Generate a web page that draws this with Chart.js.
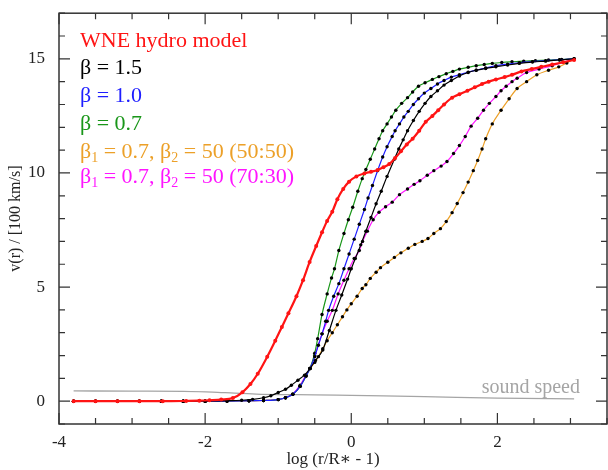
<!DOCTYPE html>
<html>
<head>
<meta charset="utf-8">
<script src="https://cdn.jsdelivr.net/npm/chart.js@4.4.0/dist/chart.umd.min.js"></script>
<style>
  html, body { margin: 0; padding: 0; background: #fff; }
  #wrap { width: 608px; height: 470px; overflow: hidden; }
  #myChart { display: block; margin-top: -3px; }
</style>
</head>
<body>
<div id="wrap"><canvas id="myChart" width="611" height="473"></canvas></div>
<script>
// x = log(r/R* - 1), v = v(r) in 100 km/s
const xHydro = [-3.8,-3.5,-3.2,-2.9,-2.58,-2.26,-2.08,-1.94,-1.78,-1.62,-1.49,-1.38,-1.28,-1.15,-1.04,-0.95,-0.86,-0.75,-0.66,-0.57,-0.48,-0.4,-0.33,-0.26,-0.19,-0.11,-0.03,0.07,0.18,0.27,0.36,0.44,0.52,0.6,0.68,0.76,0.84,0.93,1.02,1.11,1.19,1.27,1.38,1.48,1.59,1.69,1.79,1.88,1.98,2.1,2.2,2.33,2.47,2.6,2.75,2.9,3.05];
const vHydro = [0,0,0,0,0,0.01,0.02,0.04,0.07,0.14,0.39,0.75,1.2,1.95,2.65,3.25,3.85,4.6,5.3,6.1,6.8,7.4,7.9,8.3,8.85,9.3,9.62,9.85,9.98,10.05,10.13,10.25,10.39,10.65,10.95,11.25,11.5,11.85,12.24,12.5,12.75,13.0,13.3,13.45,13.6,13.75,13.9,14.0,14.1,14.2,14.3,14.45,14.55,14.65,14.75,14.85,14.95];

const xB15 = [-3.8,-3.5,-3.2,-2.9,-2.6,-2.3,-2.0,-1.7,-1.5,-1.35,-1.2,-1.1,-1.0,-0.9,-0.82,-0.73,-0.64,-0.565,-0.49,-0.39,-0.3,-0.21,-0.13,-0.05,0.0,0.055,0.13,0.2,0.27,0.34,0.41,0.49,0.59,0.65,0.71,0.77,0.85,0.93,1.01,1.09,1.18,1.27,1.37,1.48,1.6,1.71,1.84,1.98,2.14,2.3,2.48,2.66,2.85,3.05];
const vB15 = [0,0,0,0,0,0,0.01,0.02,0.04,0.08,0.15,0.24,0.38,0.52,0.7,0.92,1.14,1.43,1.78,2.24,3.1,3.98,4.65,5.35,5.8,6.25,6.85,7.45,8.05,8.65,9.2,9.85,10.6,11.05,11.45,11.85,12.3,12.7,13.05,13.35,13.6,13.85,14.05,14.25,14.4,14.5,14.58,14.65,14.73,14.8,14.86,14.9,14.95,15.0];

const xB10 = [-3.8,-3.5,-3.2,-2.9,-2.6,-2.3,-2.0,-1.7,-1.4,-1.2,-1.0,-0.9,-0.8,-0.7,-0.62,-0.565,-0.5,-0.45,-0.4,-0.35,-0.31,-0.24,-0.17,-0.1,-0.03,0.04,0.11,0.18,0.23,0.29,0.36,0.43,0.49,0.56,0.6,0.66,0.72,0.78,0.85,0.92,1.0,1.09,1.18,1.27,1.37,1.48,1.6,1.71,1.84,1.98,2.14,2.3,2.48,2.66,2.85,3.05];
const vB10 = [0,0,0,0,0,0,0,0.01,0.02,0.03,0.07,0.15,0.3,0.65,1.1,1.43,1.95,2.45,2.95,3.5,3.98,4.6,5.15,5.8,6.45,7.1,7.75,8.4,8.9,9.45,10.1,10.7,11.15,11.6,11.85,12.15,12.45,12.7,13.0,13.25,13.5,13.7,13.9,14.05,14.2,14.3,14.42,14.5,14.6,14.7,14.77,14.83,14.88,14.92,14.96,15.0];

const xB07 = [-3.8,-3.5,-3.2,-2.9,-2.6,-2.3,-2.0,-1.7,-1.4,-1.2,-1.0,-0.9,-0.8,-0.7,-0.62,-0.565,-0.5,-0.46,-0.4,-0.33,-0.27,-0.23,-0.17,-0.1,-0.04,0.02,0.09,0.15,0.2,0.26,0.32,0.38,0.43,0.49,0.55,0.61,0.69,0.77,0.84,0.92,1.01,1.11,1.2,1.3,1.39,1.48,1.6,1.71,1.82,1.93,2.06,2.2,2.36,2.52,2.7,2.88,3.05];
const vB07 = [0,0,0,0,0,0,0,0.01,0.02,0.03,0.07,0.15,0.3,0.65,1.1,1.43,2.1,2.74,3.8,4.7,5.4,5.8,6.6,7.35,7.95,8.5,9.2,9.75,10.15,10.6,11.05,11.5,11.85,12.15,12.45,12.75,13.05,13.3,13.55,13.8,13.95,14.1,14.22,14.35,14.45,14.55,14.63,14.7,14.75,14.8,14.84,14.87,14.9,14.92,14.95,14.97,15.0];

const xMix5050 = [-3.8,-3.5,-3.2,-2.9,-2.6,-2.3,-2.0,-1.7,-1.4,-1.2,-1.0,-0.9,-0.8,-0.7,-0.62,-0.565,-0.5,-0.45,-0.39,-0.33,-0.26,-0.19,-0.12,-0.06,0.0,0.08,0.15,0.2,0.26,0.34,0.4,0.5,0.59,0.68,0.78,0.87,0.97,1.05,1.13,1.22,1.3,1.38,1.45,1.53,1.6,1.67,1.73,1.79,1.84,1.93,2.05,2.16,2.27,2.4,2.54,2.7,2.84,2.95,3.05];
const vMix5050 = [0,0,0,0,0,0,0,0.01,0.02,0.03,0.07,0.15,0.3,0.65,1.1,1.43,1.7,1.95,2.3,2.65,3.0,3.35,3.7,4.0,4.27,4.6,4.94,5.1,5.38,5.65,5.85,6.09,6.3,6.5,6.7,6.87,7.0,7.13,7.35,7.56,7.87,8.26,8.66,9.14,9.6,10.1,10.55,11.05,11.5,12.15,12.75,13.25,13.7,14.0,14.3,14.5,14.65,14.82,15.0];

const xMix7030 = [-3.8,-3.5,-3.2,-2.9,-2.6,-2.3,-2.0,-1.7,-1.4,-1.2,-1.0,-0.9,-0.8,-0.7,-0.62,-0.565,-0.5,-0.4,-0.33,-0.26,-0.18,-0.1,-0.03,0.04,0.11,0.155,0.22,0.3,0.38,0.47,0.56,0.66,0.77,0.86,0.94,1.04,1.13,1.23,1.31,1.4,1.48,1.56,1.64,1.73,1.81,1.89,1.98,2.05,2.12,2.2,2.27,2.4,2.57,2.75,2.9,3.05];
const vMix7030 = [0,0,0,0,0,0,0,0.01,0.02,0.03,0.07,0.15,0.32,0.7,1.15,1.43,2.0,2.95,3.5,3.98,4.7,5.3,5.8,6.25,6.6,7.0,7.45,7.95,8.28,8.52,8.72,9.05,9.3,9.5,9.66,9.9,10.1,10.3,10.5,10.85,11.2,11.6,12.05,12.4,12.75,13.05,13.35,13.6,13.8,14.0,14.15,14.4,14.55,14.7,14.85,15.0];

const xSound = [-3.8,-3.0,-2.3,-1.9,-1.6,-1.3,-1.0,-0.5,0.0,1.0,2.0,3.05];
const vSound = [0.45,0.44,0.43,0.4,0.35,0.31,0.29,0.28,0.25,0.2,0.13,0.1];

const xTicks = [-4, -2, 0, 2];
const yTicks = [0, 5, 10, 15];

const RED = 'rgb(255,20,20)';
const BLACK = 'rgb(0,0,0)';
const BLUE = 'rgb(30,30,255)';
const GREEN = 'rgb(25,150,25)';
const ORANGE = 'rgb(236,160,40)';
const MAGENTA = 'rgb(255,20,255)';
const GREY = 'rgb(165,165,165)';
const SERIF = '"Liberation Serif", "DejaVu Serif", serif';

const pts = (xs, vs) => xs.map((x, i) => ({ x, y: vs[i] }));

const betaSet = (xs, vs, color) => ({
  data: pts(xs, vs),
  showLine: true,
  borderColor: color,
  borderWidth: 1.2,
  pointRadius: 1.7,
  pointBackgroundColor: BLACK,
  pointBorderWidth: 0,
  cubicInterpolationMode: 'monotone',
});

const frame = {
  id: 'frame',
  afterDraw(chart) {
    const { ctx, chartArea: a, scales: { x, y } } = chart;
    ctx.save();
    ctx.strokeStyle = '#333';
    ctx.lineWidth = 1.5;
    ctx.strokeRect(a.left, a.top, a.right - a.left, a.bottom - a.top);
    ctx.lineWidth = 1.2;
    ctx.beginPath();
    for (let v = -4; v <= 3.5; v += 0.5) {
      const px = x.getPixelForValue(v);
      const len = v % 2 === 0 ? 11 : 6;
      ctx.moveTo(px, a.bottom); ctx.lineTo(px, a.bottom - len);
      ctx.moveTo(px, a.top); ctx.lineTo(px, a.top + len);
    }
    for (let v = -1; v <= 17; v += 1) {
      const py = y.getPixelForValue(v);
      const len = v % 5 === 0 ? 11 : 6;
      ctx.moveTo(a.left, py); ctx.lineTo(a.left + len, py);
      ctx.moveTo(a.right, py); ctx.lineTo(a.right - len, py);
    }
    ctx.stroke();

    // legend text (canvas is shifted up 3px, so add it back)
    const lines = [
      { c: RED, parts: [['WNE hydro model']] },
      { c: BLACK, parts: [['β = 1.5']] },
      { c: BLUE, parts: [['β = 1.0']] },
      { c: GREEN, parts: [['β = 0.7']] },
      { c: ORANGE, parts: [['β'], ['1', 1], [' = 0.7, β'], ['2', 1], [' = 50 (50:50)']] },
      { c: MAGENTA, parts: [['β'], ['1', 1], [' = 0.7, β'], ['2', 1], [' = 50 (70:30)']] },
    ];
    const base = [50, 77, 105, 133, 161, 186];
    ctx.textBaseline = 'alphabetic';
    ctx.textAlign = 'left';
    lines.forEach((ln, i) => {
      let cx = 80;
      ctx.fillStyle = ln.c;
      ln.parts.forEach(([t, sub]) => {
        ctx.font = (sub ? '14px ' : '22px ') + SERIF;
        ctx.fillText(t, cx, base[i] + (sub ? 4 : 0));
        cx += ctx.measureText(t).width;
      });
    });

    ctx.fillStyle = GREY;
    ctx.font = '20px ' + SERIF;
    ctx.textAlign = 'right';
    ctx.fillText('sound speed', x.getPixelForValue(3.13), y.getPixelForValue(0.35));
    ctx.restore();
  }
};

const config = {
  type: 'scatter',
  data: {
    datasets: [
      {
        data: pts(xHydro, vHydro),
        showLine: true,
        borderColor: RED,
        borderWidth: 2.2,
        pointRadius: 2,
        pointBackgroundColor: RED,
        pointBorderWidth: 0,
        cubicInterpolationMode: 'monotone',
      },
      betaSet(xB15, vB15, BLACK),
      betaSet(xB10, vB10, BLUE),
      betaSet(xB07, vB07, GREEN),
      betaSet(xMix7030, vMix7030, MAGENTA),
      betaSet(xMix5050, vMix5050, ORANGE),
      {
        data: pts(xSound, vSound),
        showLine: true,
        borderColor: GREY,
        borderWidth: 1.3,
        pointRadius: 0,
        cubicInterpolationMode: 'monotone',
      },
    ]
  },
  options: {
    animation: false,
    responsive: false,
    layout: { padding: { top: 0, right: 0, left: 0, bottom: 0 } },
    plugins: { legend: { display: false }, tooltip: { enabled: false } },
    scales: {
      x: {
        type: 'linear',
        min: -4,
        max: 3.5,
        grid: { display: false },
        border: { display: false },
        afterBuildTicks: s => { s.ticks = xTicks.map(value => ({ value })); },
        afterFit: s => { s.height = 46; },
        ticks: { color: '#222', padding: 0, font: { family: SERIF, size: 17 } },
        title: {
          display: true,
          text: 'log (r/R\u2217 - 1)',
          color: '#222',
          padding: { top: 0, bottom: 0 },
          font: { family: SERIF, size: 17 },
        },
      },
      y: {
        type: 'linear',
        min: -1,
        max: 17,
        grid: { display: false },
        border: { display: false },
        afterBuildTicks: s => { s.ticks = yTicks.map(value => ({ value })); },
        afterFit: s => { s.width = 59; },
        ticks: { color: '#222', padding: 6, font: { family: SERIF, size: 17 } },
        title: {
          display: true,
          text: 'v(r) / [100 km/s]',
          color: '#222',
          padding: { top: 6, bottom: 0 },
          font: { family: SERIF, size: 16 },
        },
      },
    },
  },
  plugins: [frame],
};

const myChart = new Chart(document.getElementById('myChart'), config);
</script>
</body>
</html>
